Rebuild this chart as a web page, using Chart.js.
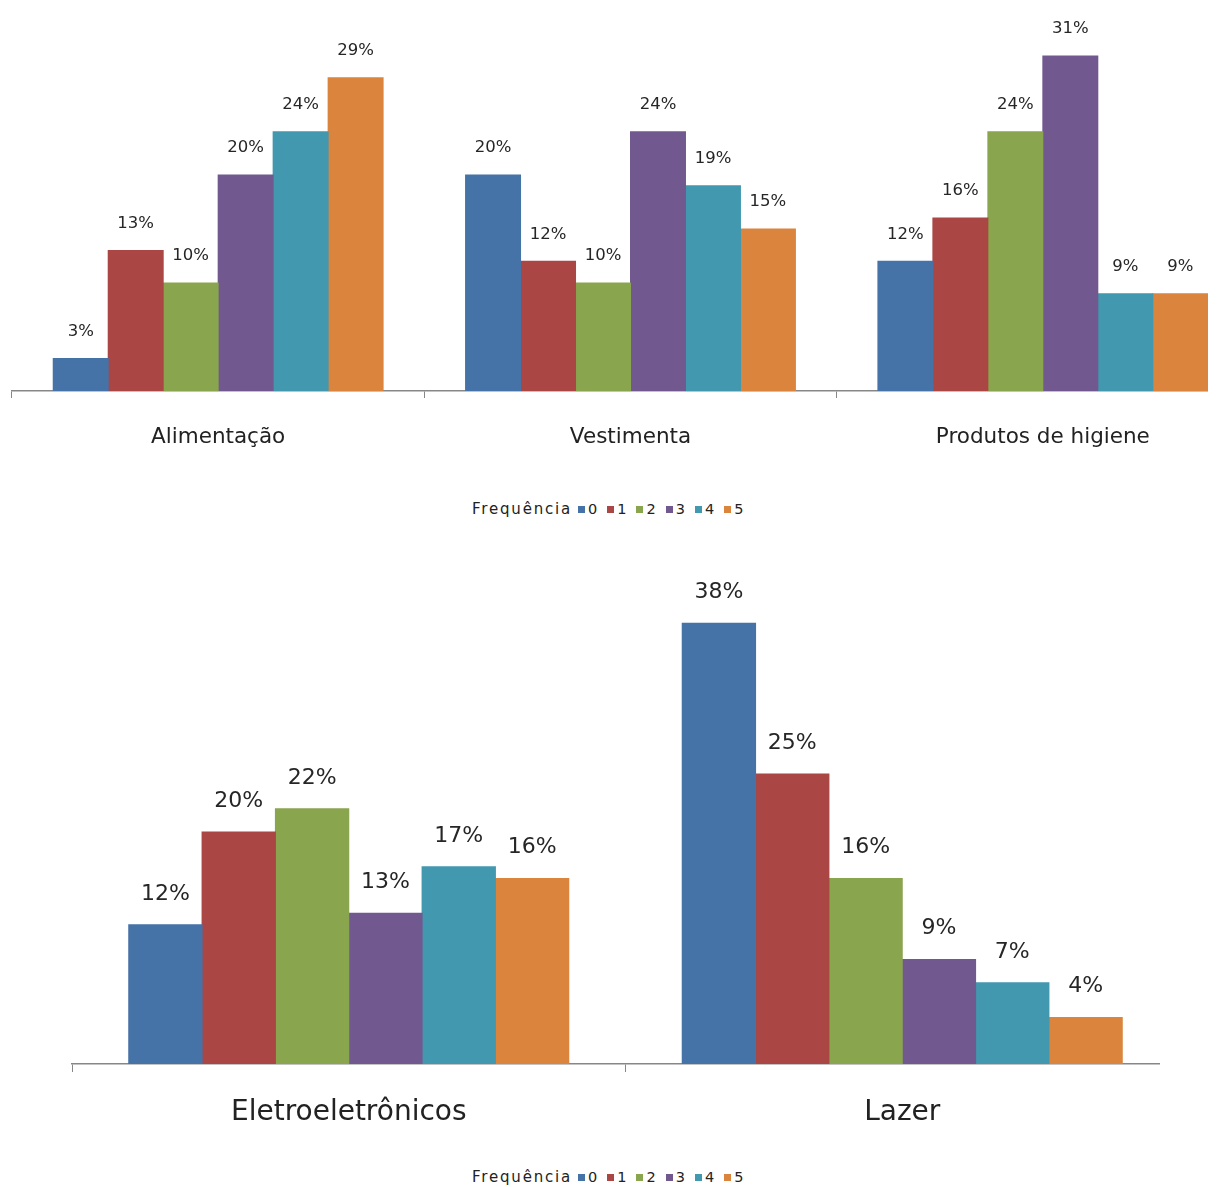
<!DOCTYPE html>
<html>
<head>
<meta charset="utf-8">
<script src="https://cdn.jsdelivr.net/npm/chart.js@4/dist/chart.umd.min.js"></script>
<style>
  html, body { margin: 0; padding: 0; background: #fff; }
  body { width: 1217px; height: 1187px; overflow: hidden; position: relative; font-family: "DejaVu Sans", sans-serif; }
  .panel { position: absolute; overflow: hidden; }
  #topPanel { left: 0; top: 0; width: 1208px; height: 480px; }
  #bottomPanel { left: 0; top: 530px; width: 1160px; height: 614px; }
  .legend { position: absolute; left: 472px; height: 18px; line-height: 18px; font-size: 15px; color: #222; white-space: nowrap; display: flex; align-items: center; }
  .legend .title { letter-spacing: 1.8px; margin-right: 6px; }
  .legend .item { display: inline-flex; align-items: center; margin-right: 10px; font-size: 14.5px; }
  .legend .box { display: inline-block; width: 7px; height: 7px; margin-right: 3px; }
</style>
</head>
<body>
<div class="panel" id="topPanel"><canvas id="topChart" width="1250" height="471"></canvas></div>
<div class="legend" id="topLegend" style="top:500px"></div>
<div class="panel" id="bottomPanel"><canvas id="bottomChart" width="1185" height="614"></canvas></div>
<div class="legend" id="bottomLegend" style="top:1168px"></div>
<script>
// Frequency classes shown in both legends
const freqLabels = ['0', '1', '2', '3', '4', '5'];
const freqColors = ['#4572A7', '#AA4643', '#89A54E', '#71588F', '#4198AF', '#DB843D'];

// Upper panel: spending categories
const topCategories = ['Alimentação', 'Vestimenta', 'Produtos de higiene'];
const topFreq0 = [3, 20, 12];
const topFreq1 = [13, 12, 16];
const topFreq2 = [10, 10, 24];
const topFreq3 = [20, 24, 31];
const topFreq4 = [24, 19, 9];
const topFreq5 = [29, 15, 9];

// Lower panel
const bottomCategories = ['Eletroeletrônicos', 'Lazer'];
const bottomFreq0 = [12, 38];
const bottomFreq1 = [20, 25];
const bottomFreq2 = [22, 16];
const bottomFreq3 = [13, 9];
const bottomFreq4 = [17, 7];
const bottomFreq5 = [16, 4];

const legendTitle = 'Frequência';

// Draws "NN%" above every bar, using each bar element's position
const valueLabels = {
  id: 'valueLabels',
  afterDatasetsDraw(chart, args, opts) {
    const ctx = chart.ctx;
    ctx.save();
    ctx.font = opts.size + 'px "DejaVu Sans"';
    ctx.fillStyle = opts.color;
    ctx.textAlign = 'center';
    ctx.textBaseline = 'middle';
    chart.data.datasets.forEach((ds, i) => {
      const meta = chart.getDatasetMeta(i);
      meta.data.forEach((bar, j) => {
        ctx.fillText(ds.data[j] + '%', bar.x, bar.y - opts.offset);
      });
    });
    ctx.restore();
  }
};

function makeDatasets(series, catPct) {
  return series.map((data, i) => ({
    label: freqLabels[i],
    data: data,
    backgroundColor: freqColors[i],
    borderWidth: 0,
    inflateAmount: 0.5,
    categoryPercentage: catPct,
    barPercentage: 1.0
  }));
}

function makeChart(id, categories, series, cfg) {
  return new Chart(document.getElementById(id), {
    type: 'bar',
    data: { labels: categories, datasets: makeDatasets(series, cfg.catPct) },
    plugins: [valueLabels],
    options: {
      responsive: false,
      animation: false,
      devicePixelRatio: 1,
      layout: { padding: cfg.padding },
      plugins: {
        legend: { display: false },
        tooltip: { enabled: false },
        valueLabels: { size: cfg.labelSize, offset: cfg.labelOffset, color: '#262626' }
      },
      scales: {
        x: {
          afterFit: (scale) => { scale.height = 80; },
          border: { display: true, color: '#878787', width: 1.5 },
          grid: { drawOnChartArea: false, drawTicks: true, tickLength: cfg.tickLength, color: '#878787', offset: true },
          ticks: {
            color: '#222',
            padding: cfg.tickPadding,
            font: { family: 'DejaVu Sans', size: cfg.catSize }
          }
        },
        y: {
          display: false,
          min: 0,
          max: cfg.yMax
        }
      }
    }
  });
}

makeChart('topChart', topCategories,
  [topFreq0, topFreq1, topFreq2, topFreq3, topFreq4, topFreq5],
  { padding: { left: 12, right: 1, top: 2, bottom: 0 }, yMax: 36, labelSize: 16.5, labelOffset: 27,
    catSize: 21.5, tickLength: 7, tickPadding: 27, catPct: 0.8 });

makeChart('bottomChart', bottomCategories,
  [bottomFreq0, bottomFreq1, bottomFreq2, bottomFreq3, bottomFreq4, bottomFreq5],
  { padding: { left: 72, right: 6, top: 70, bottom: 0 }, yMax: 40, labelSize: 22, labelOffset: 31,
    catSize: 28, tickLength: 8, tickPadding: 24, catPct: 0.795 });

// Legends: title followed by one coloured square per frequency
function buildLegend(id) {
  const el = document.getElementById(id);
  const t = document.createElement('span');
  t.className = 'title';
  t.textContent = legendTitle;
  el.appendChild(t);
  freqLabels.forEach((lab, i) => {
    const item = document.createElement('span');
    item.className = 'item';
    const b = document.createElement('span');
    b.className = 'box';
    b.style.background = freqColors[i];
    item.appendChild(b);
    item.appendChild(document.createTextNode(lab));
    el.appendChild(item);
  });
}
buildLegend('topLegend');
buildLegend('bottomLegend');
</script>
</body>
</html>
